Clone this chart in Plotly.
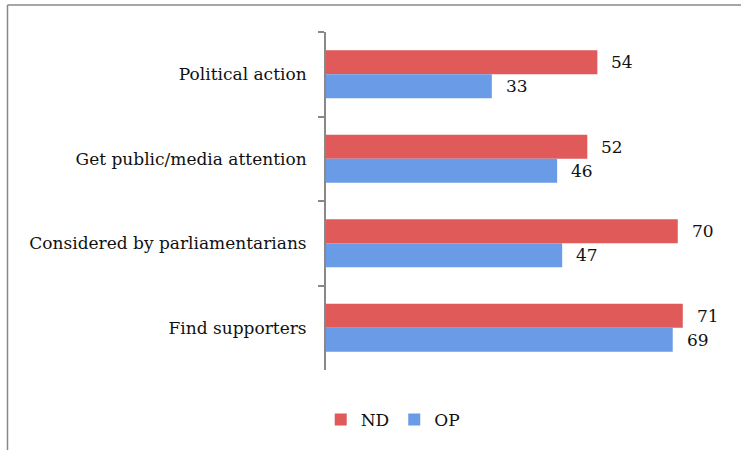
import plotly.graph_objects as go

categories = ["Political action", "Get public/media attention",
              "Considered by parliamentarians", "Find supporters"]
nd_values = [54, 52, 70, 71]
op_values = [33, 46, 47, 69]

FONT = "DejaVu Serif"
ND_COLOR = "#e05a5a"
OP_COLOR = "#6a9be6"

fig = go.Figure()
fig.add_trace(go.Bar(y=categories, x=nd_values, orientation="h", name="ND",
                     marker=dict(color=ND_COLOR, line=dict(width=0))))
fig.add_trace(go.Bar(y=categories, x=op_values, orientation="h", name="OP",
                     marker=dict(color=OP_COLOR, line=dict(width=0))))

annotations = []
for cat, v in zip(categories, nd_values):
    annotations.append(dict(x=v, y=cat, text=str(v), showarrow=False, xanchor="left",
                            xshift=12, yshift=12, font=dict(family=FONT, size=17, color="#111")))
for cat, v in zip(categories, op_values):
    annotations.append(dict(x=v, y=cat, text=str(v), showarrow=False, xanchor="left",
                            xshift=12, yshift=-12, font=dict(family=FONT, size=17, color="#111")))

W, H = 741, 450
L, R, T, B = 326, 13, 32, 80
pw = W - L - R
ph = H - T - B

def px_x(x):
    return (x - L) / pw

def px_y(y):
    return (H - B - y) / ph

shapes = [
    dict(type="line", xref="paper", yref="paper", x0=px_x(7.5), x1=px_x(7.5),
         y0=px_y(5), y1=px_y(452), line=dict(color="#888", width=1.5)),
    dict(type="line", xref="paper", yref="paper", x0=px_x(7.5), x1=px_x(745),
         y0=px_y(5), y1=px_y(5), line=dict(color="#888", width=1.5)),
]

fig.update_layout(
    width=W, height=H,
    margin=dict(l=L, r=R, t=T, b=B),
    paper_bgcolor="white", plot_bgcolor="white",
    barmode="group", bargap=0.43, bargroupgap=0,
    font=dict(family=FONT, size=17, color="#111"),
    xaxis=dict(range=[0, 80], visible=False),
    yaxis=dict(autorange="reversed", showline=True, linecolor="#888", linewidth=2,
               ticks="outside", tickson="boundaries", ticklen=6, tickcolor="#888",
               tickwidth=1.5, ticklabelstandoff=14, showgrid=False,
               tickfont=dict(family=FONT, size=17, color="#111")),
    legend=dict(orientation="h", xref="container", yref="container", x=0.53, y=0.067,
                xanchor="center", yanchor="middle", font=dict(family=FONT, size=17),
                itemwidth=30, traceorder="normal"),
    annotations=annotations,
    shapes=shapes,
    showlegend=True,
)

fig.write_html("out.html", config={"displayModeBar": False},
               post_script="document.body.style.margin='0';")
